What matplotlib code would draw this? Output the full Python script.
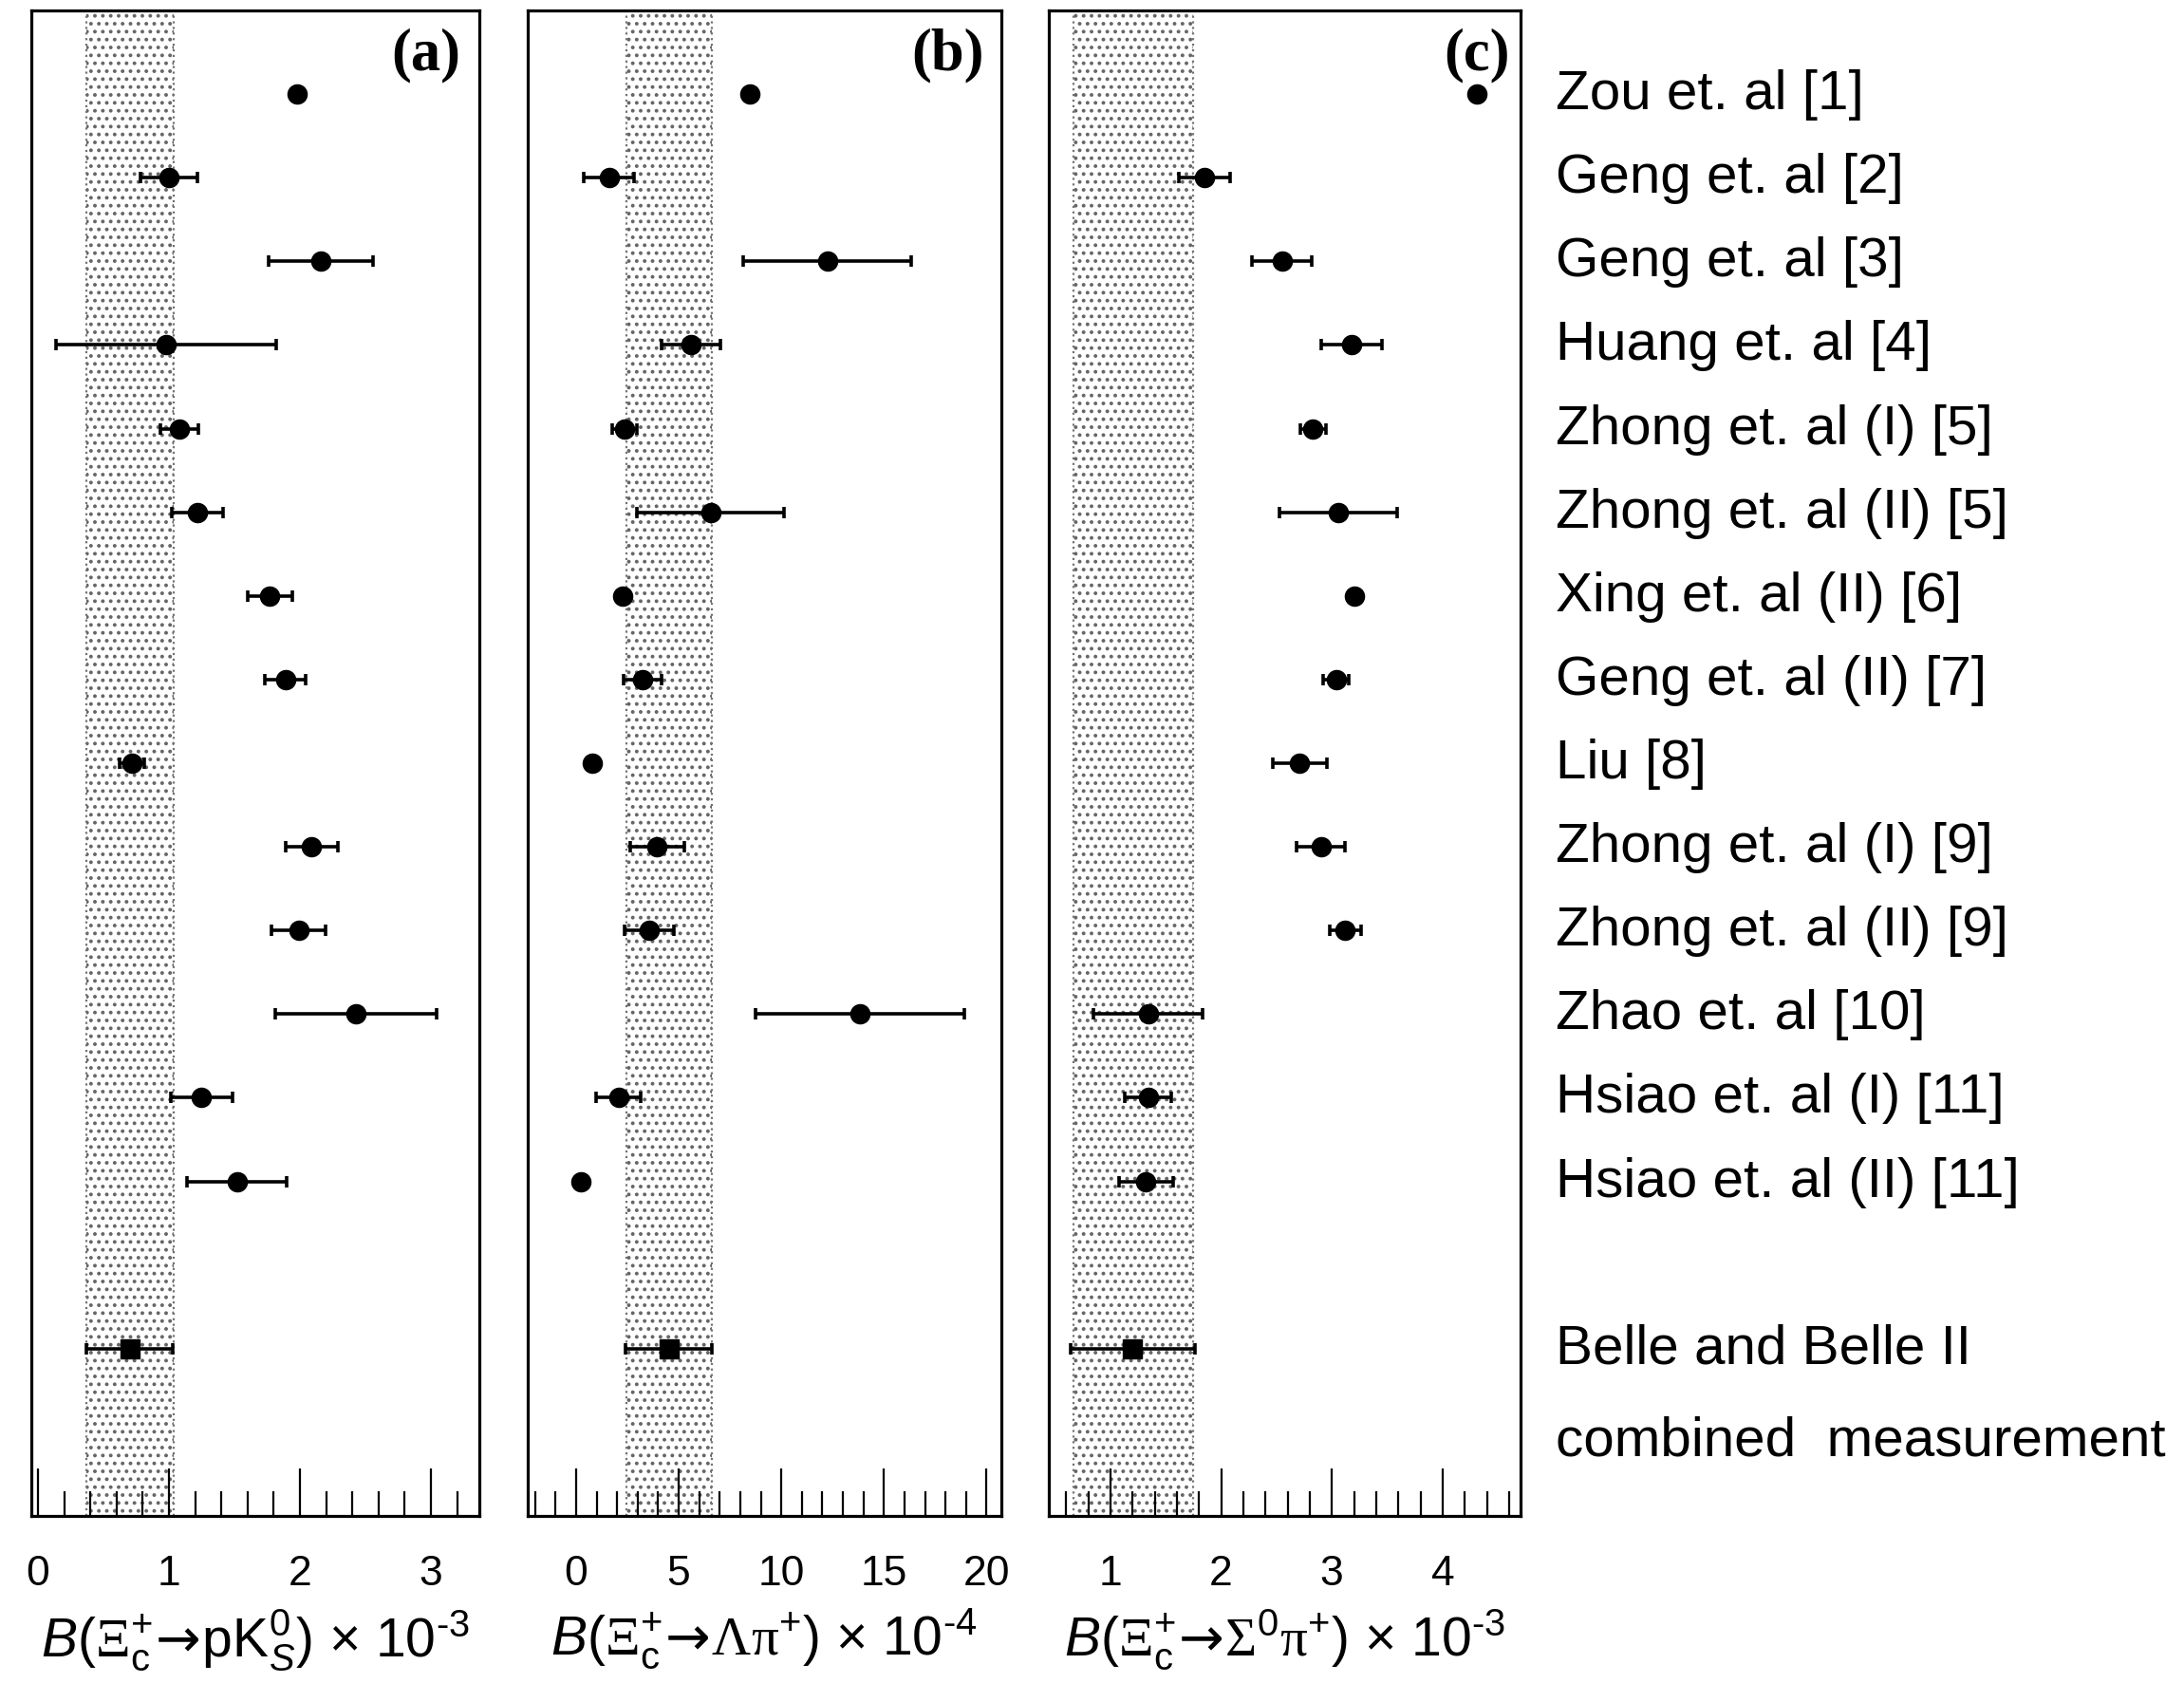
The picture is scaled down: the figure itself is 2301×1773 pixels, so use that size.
import numpy as np
import matplotlib
matplotlib.use('Agg')
import matplotlib.pyplot as plt
import matplotlib.transforms as mtransforms
from matplotlib.ticker import MultipleLocator

# Fontes
plt.rcParams['font.family'] = ['Liberation Sans', 'DejaVu Sans']
plt.rcParams['mathtext.fontset'] = 'custom'
plt.rcParams['mathtext.rm'] = 'Liberation Sans'
plt.rcParams['mathtext.it'] = 'Liberation Sans:italic'
plt.rcParams['mathtext.sf'] = 'Liberation Serif'
plt.rcParams['mathtext.cal'] = 'DejaVu Sans'   # so para a seta
plt.rcParams['hatch.linewidth'] = 1.6

# Referencias (linhas de cima para baixo)
referencias = ['Zou et. al [1]', 'Geng et. al [2]', 'Geng et. al [3]', 'Huang et. al [4]',
               'Zhong et. al (I) [5]', 'Zhong et. al (II) [5]', 'Xing et. al (II) [6]',
               'Geng et. al (II) [7]', 'Liu [8]', 'Zhong et. al (I) [9]',
               'Zhong et. al (II) [9]', 'Zhao et. al [10]', 'Hsiao et. al (I) [11]',
               'Hsiao et. al (II) [11]']

# (a) B(Xi_c+ -> p K0S) x 10^-3
pk_val = [1.98, 1.00, 2.16, 0.98, 1.08, 1.22, 1.77, 1.89, 0.72, 2.09, 1.99, 2.43, 1.25, 1.52]
pk_err = [0, 0.22, 0.40, 0.84, 0.145, 0.195, 0.17, 0.155, 0.095, 0.20, 0.205, 0.615, 0.235, 0.38]
pk_medida = 0.70
pk_medida_err = 0.33
pk_faixa = (0.37, 1.04)

# (b) B(Xi_c+ -> Lambda pi+) x 10^-4
lam_val = [8.48, 1.60, 12.24, 5.60, 2.36, 6.55, 2.26, 3.24, 0.81, 3.95, 3.56, 13.83, 2.07, 0.23]
lam_err = [0, 1.22, 4.1, 1.42, 0.6, 3.6, 0, 0.92, 0, 1.33, 1.2, 5.08, 1.1, 0]
lam_medida = 4.52
lam_medida_err = 2.1
lam_faixa = (2.44, 6.63)

# (c) B(Xi_c+ -> Sigma0 pi+) x 10^-3
sig_val = [4.31, 1.85, 2.55, 3.18, 2.83, 3.06, 3.20, 3.04, 2.71, 2.90, 3.12, 1.34, 1.34, 1.32]
sig_err = [0, 0.23, 0.27, 0.275, 0.115, 0.53, 0.04, 0.115, 0.245, 0.215, 0.14, 0.495, 0.21, 0.245]
sig_medida = 1.20
sig_medida_err = 0.56
sig_faixa = (0.67, 1.75)

linhas = np.arange(len(referencias))
linha_medida = 15

seta = r'\!\mathcal{\rightarrow}\!'

paineis = [
    dict(val=pk_val, err=pk_err, med=pk_medida, med_err=pk_medida_err, faixa=pk_faixa,
         xlim=(-0.05, 3.37), major=1, minor=0.2, letra='(a)', lx=0.958,
         pos=[33 / 2301, 0.0992, 472 / 2301, 0.8940],
         xlabel=r'$B(\mathsf{\Xi}_{\rm c}^{+}' + seta + r'{\rm pK}_{S}^{0})$ × 10$^{\text{-3}}$'),
    dict(val=lam_val, err=lam_err, med=lam_medida, med_err=lam_medida_err, faixa=lam_faixa,
         xlim=(-2.38, 20.7), major=5, minor=1, letra='(b)', lx=0.964,
         pos=[555.5 / 2301, 0.0992, 499 / 2301, 0.8940],
         xlabel=r'$B(\mathsf{\Xi}_{\rm c}^{+}' + seta + r'\mathsf{\Lambda\pi}^{+})$ × 10$^{\text{-4}}$'),
    dict(val=sig_val, err=sig_err, med=sig_medida, med_err=sig_medida_err, faixa=sig_faixa,
         xlim=(0.44, 4.70), major=1, minor=0.2, letra='(c)', lx=0.978,
         pos=[1104.5 / 2301, 0.0992, 497 / 2301, 0.8940],
         xlabel=r'$B(\mathsf{\Xi}_{\rm c}^{+}' + seta + r'\mathsf{\Sigma}^{0}\mathsf{\pi}^{+})$ × 10$^{\text{-3}}$'),
]

fig = plt.figure(figsize=(23.01, 17.74), dpi=100)

eixos = []
for p in paineis:
    ax = fig.add_axes(p['pos'])
    eixos.append(ax)

    # faixa da medida combinada (pontilhada)
    ax.axvspan(p['faixa'][0], p['faixa'][1], facecolor='white', edgecolor='0.4',
               hatch='..', linewidth=0, zorder=0)
    ax.axvline(p['faixa'][0], color='0.45', ls=':', lw=1.6, zorder=0.5)
    ax.axvline(p['faixa'][1], color='0.45', ls=':', lw=1.6, zorder=0.5)

    # previsoes teoricas
    ax.errorbar(p['val'], linhas, xerr=p['err'], fmt='o', color='black', ms=14.5,
                elinewidth=2.6, capsize=4, capthick=2.6, zorder=3)

    # medida Belle + Belle II
    ax.errorbar([p['med']], [linha_medida], xerr=[p['med_err']], fmt='s', color='black',
                ms=14.5, elinewidth=2.6, capsize=4, capthick=2.6, zorder=3)

    ax.set_xlim(p['xlim'])
    ax.set_ylim(17, -1)
    ax.set_yticks([])
    ax.xaxis.set_major_locator(MultipleLocator(p['major']))
    ax.xaxis.set_minor_locator(MultipleLocator(p['minor']))
    ax.tick_params(axis='x', which='major', direction='in', length=36, width=1.6,
                   labelsize=32, pad=29)
    ax.tick_params(axis='x', which='minor', direction='in', length=19, width=1.6)
    for s in ax.spines.values():
        s.set_linewidth(2.3)

    ax.set_xlabel(p['xlabel'], fontsize=41, labelpad=10)
    ax.text(p['lx'], 0.9706, p['letra'], transform=ax.transAxes, ha='right', va='center',
            fontsize=45, fontweight='bold', family='Liberation Serif')

# nomes das referencias a direita
trans = mtransforms.blended_transform_factory(fig.transFigure, eixos[2].transData)
for i, nome in enumerate(referencias):
    fig.text(1639 / 2301, linhas[i], nome, transform=trans, ha='left', va='center',
             fontsize=42)
fig.text(1639 / 2301, linha_medida, 'Belle and Belle II', transform=trans, ha='left',
         va='center', fontsize=42)
fig.text(1639 / 2301, linha_medida + 1.1, 'combined  measurement', transform=trans,
         ha='left', va='center', fontsize=42)

fig.savefig('out.png', dpi=100)
